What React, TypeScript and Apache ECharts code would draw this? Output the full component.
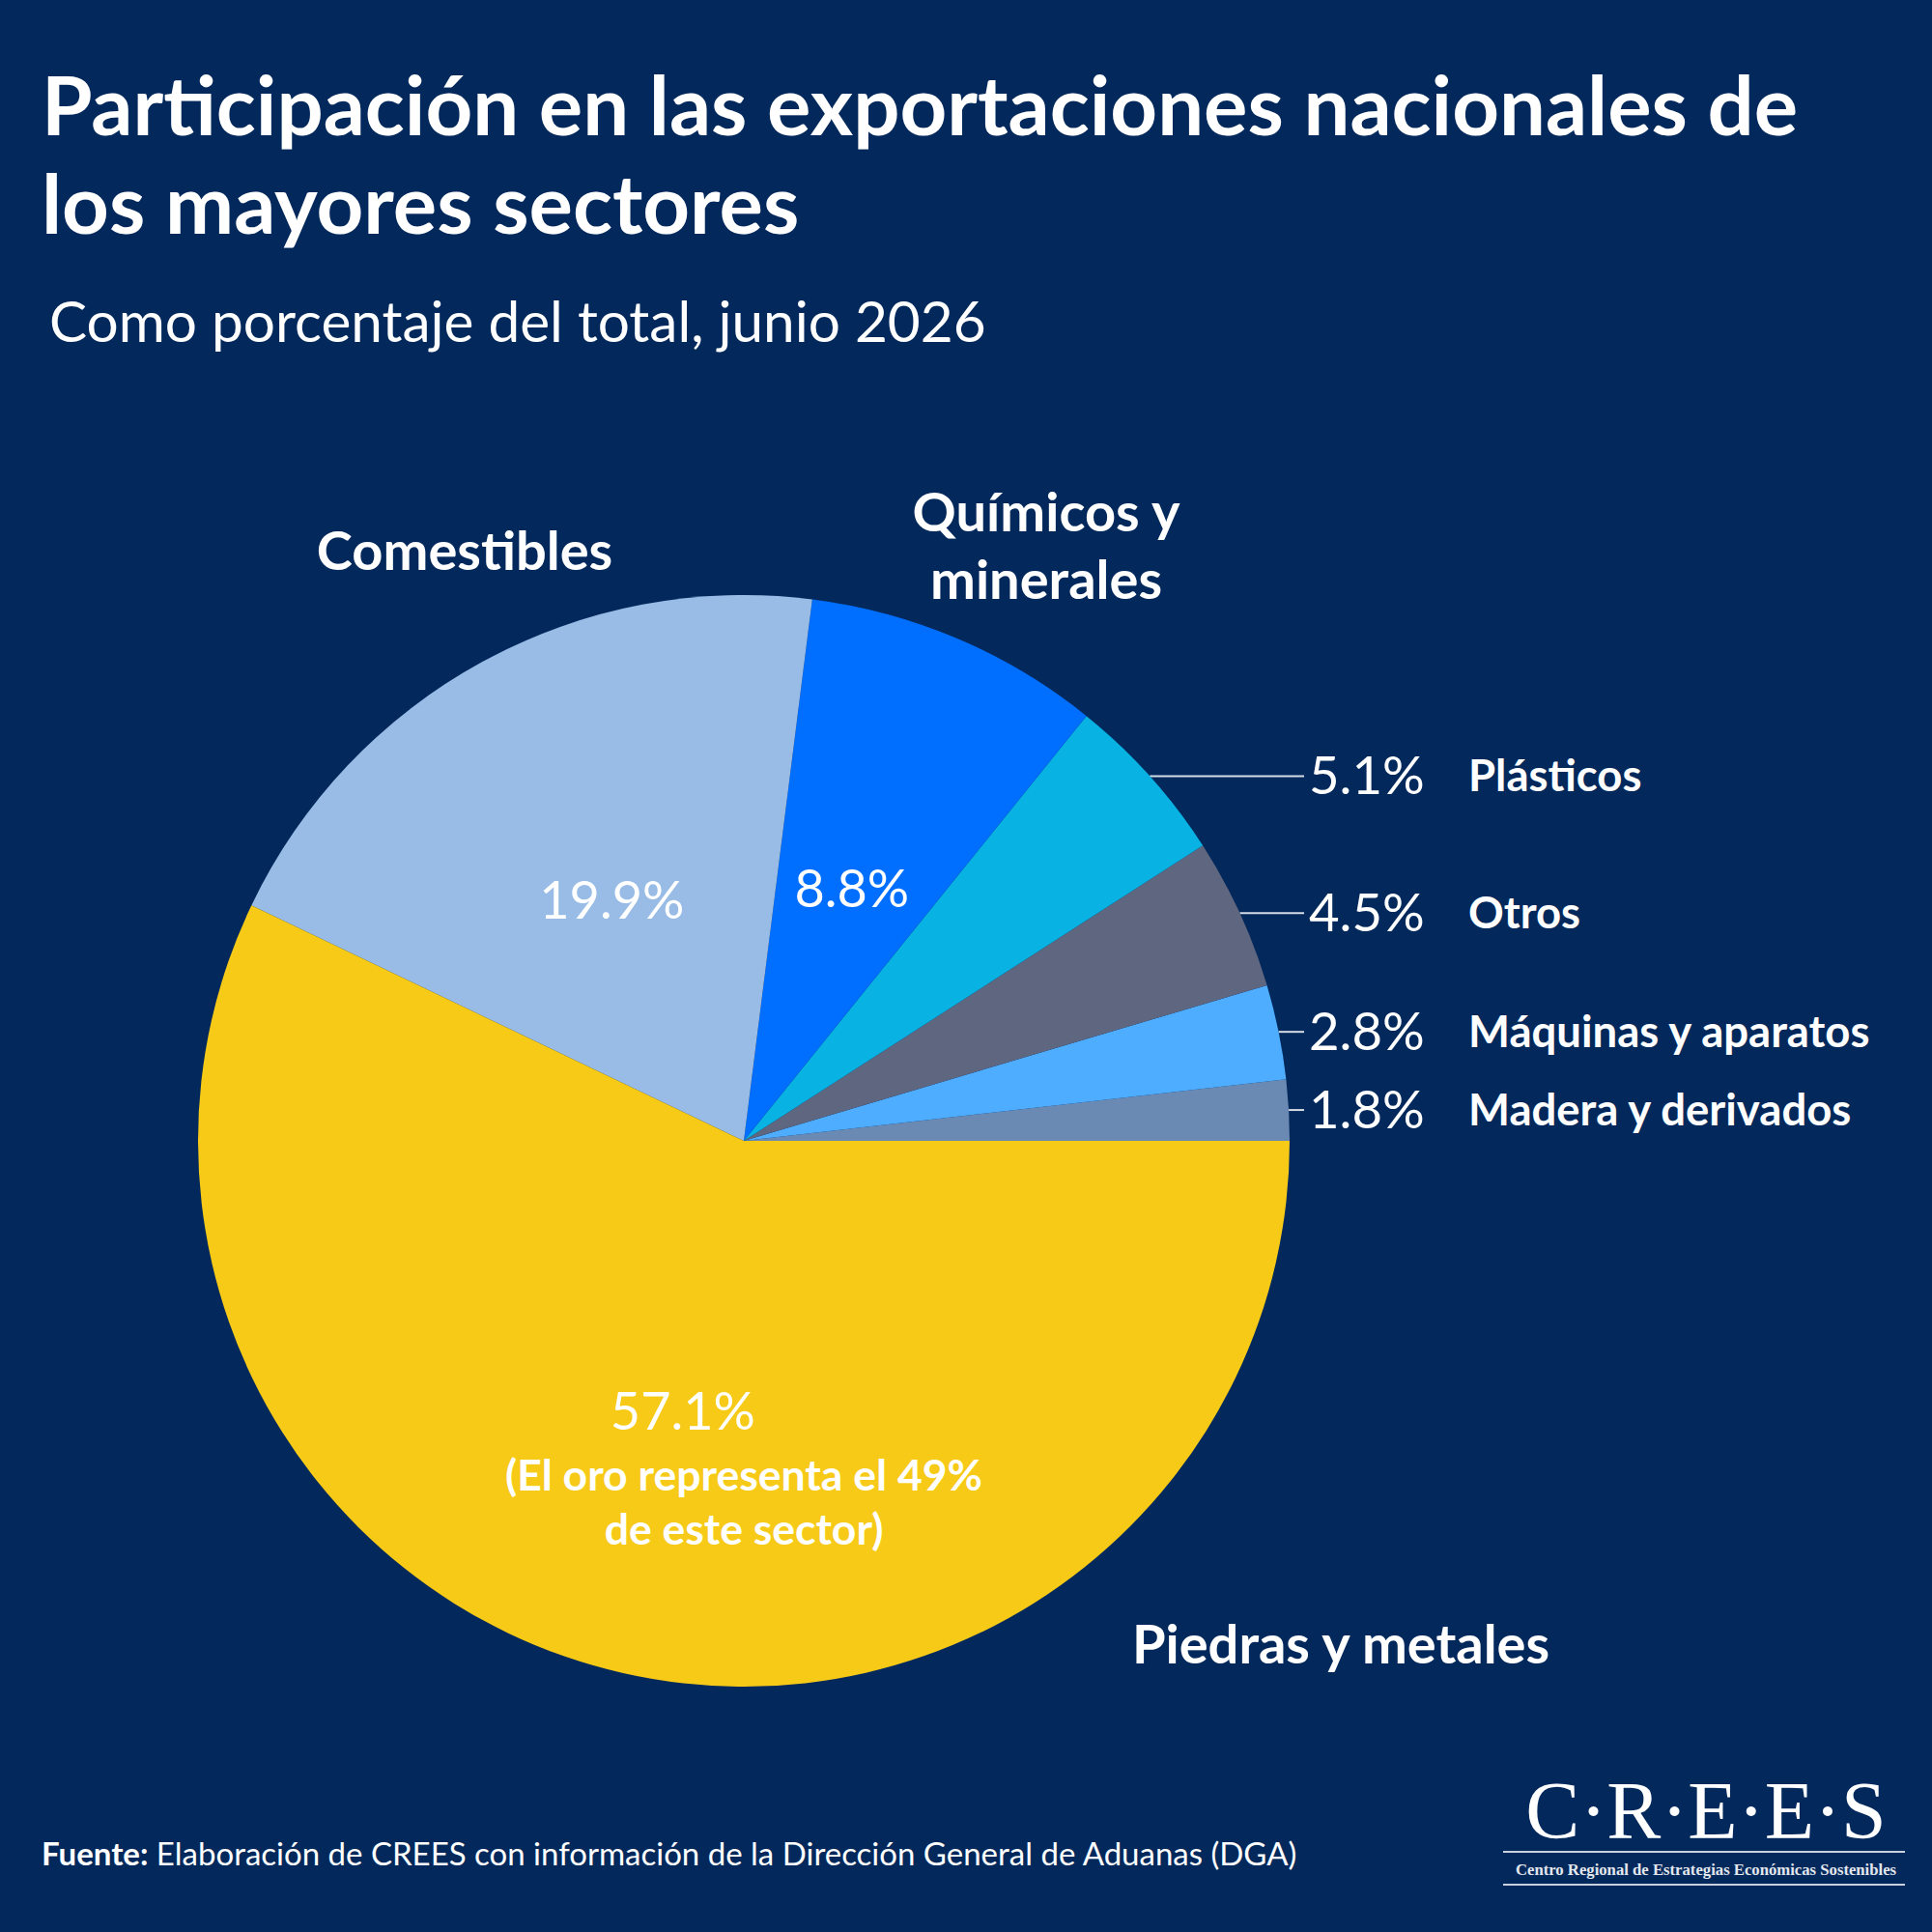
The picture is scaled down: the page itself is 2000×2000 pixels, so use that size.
import React, { useEffect, useRef } from "react";
import * as echarts from "echarts";

// sectors in drawing order, counter-clockwise from 3 o'clock
const sectors = [
  "Madera y derivados",
  "Máquinas y aparatos",
  "Otros",
  "Plásticos",
  "Químicos y\nminerales",
  "Comestibles",
  "Piedras y metales",
];
const shares = [1.8, 2.8, 4.5, 5.1, 8.8, 19.9, 57.1];
const colors = ["#6b8ab3", "#4eadfe", "#5e6680", "#08b2e2", "#006eff", "#98bce6", "#f6ca17"];
// these get a leader line and a label on the right
const smallSectors = ["Madera y derivados", "Máquinas y aparatos", "Otros", "Plásticos"];

const titleText = "Participación en las exportaciones nacionales de\nlos mayores sectores";
const subtitleText = "Como porcentaje del total, junio 2026";
const goldNote = "(El oro representa el 49%\nde este sector)";
const sourceText = "{b|Fuente:} Elaboración de CREES con información de la Dirección General de Aduanas (DGA)";

const BG = "#03295c";
const FONT = "Lato";

// where the names of the big slices sit
const namePos: Record<string, [number, number]> = {
  "Comestibles": [481, 568],
  "Químicos y\nminerales": [1083, 563],
  "Piedras y metales": [1388, 1700],
};

const App: React.FC = () => {
  const chartRef = useRef<HTMLDivElement>(null);

  useEffect(() => {
    document.body.style.margin = "0";
    if (!chartRef.current) return;
    const chart = echarts.init(chartRef.current, null, { renderer: "svg" });

    const center = [770, 1181];
    const radius = 565;
    const lineEnd = 1350;
    const labelLeft = 1355;

    const option = {
      animation: false,
      backgroundColor: BG,
      textStyle: { fontFamily: FONT },
      title: [
        {
          text: titleText,
          left: 38,
          top: 51,
          textStyle: { color: "#fff", fontSize: 85, fontWeight: "bold", lineHeight: 102, fontFamily: FONT },
        },
        {
          text: subtitleText,
          left: 46,
          top: 297,
          textStyle: { color: "#fff", fontSize: 58.5, fontWeight: "normal", lineHeight: 58, fontFamily: FONT },
        },
        {
          text: sourceText,
          left: 38,
          top: 1896,
          textStyle: {
            color: "#fff",
            fontSize: 33,
            fontWeight: "normal",
            lineHeight: 33,
            fontFamily: FONT,
            rich: { b: { fontSize: 33, fontWeight: "bold", color: "#fff", fontFamily: FONT } },
          },
        },
      ],
      graphic: [
        {
          type: "text",
          z: 100,
          x: 770,
          y: 1553,
          style: {
            text: goldNote,
            fill: "#fff",
            font: `bold 44.5px ${FONT}`,
            lineHeight: 56,
            textAlign: "center",
            textVerticalAlign: "middle",
          },
        },
        {
          type: "text",
          z: 100,
          x: 1766,
          y: 1874,
          style: {
            text: "C·R·E·E·S",
            fill: "#fff",
            font: '84px "Liberation Serif"',
            textAlign: "center",
            textVerticalAlign: "middle",
          },
        },
        {
          type: "line",
          z: 100,
          shape: { x1: 1556, y1: 1917, x2: 1972, y2: 1917 },
          style: { stroke: "#c9d1de", lineWidth: 2 },
        },
        {
          type: "text",
          z: 100,
          x: 1766,
          y: 1935,
          style: {
            text: "Centro Regional de Estrategias Económicas Sostenibles",
            fill: "#e3e7ee",
            font: 'bold 16.7px "Liberation Serif"',
            textAlign: "center",
            textVerticalAlign: "middle",
          },
        },
        {
          type: "line",
          z: 100,
          shape: { x1: 1556, y1: 1951, x2: 1972, y2: 1951 },
          style: { stroke: "#c9d1de", lineWidth: 2 },
        },
      ],
      series: [
        {
          type: "pie",
          center,
          radius,
          startAngle: 0,
          clockwise: false,
          avoidLabelOverlap: false,
          silent: true,
          data: sectors.map((name, i) => {
            const small = smallSectors.includes(name);
            return {
              name,
              value: shares[i],
              itemStyle: { color: colors[i] },
              label: small
                ? {
                    position: "outside",
                    formatter: (p: any) => `{p|${p.value}%}{n|${p.name}}`,
                    rich: {
                      p: { fontSize: 54.5, fontFamily: FONT, color: "#fff", width: 165 },
                      n: { fontSize: 45.5, fontFamily: FONT, fontWeight: "bold", color: "#fff" },
                    },
                  }
                : {
                    position: "inside",
                    formatter: (p: any) => `${p.value}%`,
                    fontSize: 54,
                    fontFamily: FONT,
                    color: "#fff",
                  },
              labelLine: small
                ? { show: true, length: 0, length2: 10, lineStyle: { color: "#d5dbe5", width: 2 } }
                : { show: false },
            };
          }),
          labelLayout: (params: any) => {
            if (!smallSectors.includes(sectors[params.dataIndex]) || !params.labelLinePoints) return {};
            const [x0, y0] = params.labelLinePoints[0];
            return {
              x: labelLeft,
              y: y0 - 2,
              align: "left",
              verticalAlign: "middle",
              labelLinePoints: [
                [x0, y0],
                [x0, y0],
                [lineEnd, y0],
              ],
            };
          },
        },
        {
          // transparent copy that carries the names of the big slices
          type: "pie",
          center,
          radius,
          startAngle: 0,
          clockwise: false,
          avoidLabelOverlap: false,
          silent: true,
          itemStyle: { color: "transparent" },
          data: sectors.map((name, i) => ({
            name,
            value: shares[i],
            label: smallSectors.includes(name)
              ? { show: false }
              : {
                  show: true,
                  position: "outside",
                  formatter: "{b}",
                  fontSize: 56,
                  fontWeight: "bold",
                  lineHeight: 70,
                  fontFamily: FONT,
                  color: "#fff",
                },
            labelLine: { show: false },
          })),
          labelLayout: (params: any) => {
            const pos = namePos[sectors[params.dataIndex]];
            if (!pos) return {};
            return { x: pos[0], y: pos[1], align: "center", verticalAlign: "middle" };
          },
        },
      ],
    };

    chart.setOption(option);

    return () => {
      chart.dispose();
    };
  }, []);

  return <div ref={chartRef} style={{ width: "2000px", height: "2000px" }} />;
};

export default App;
